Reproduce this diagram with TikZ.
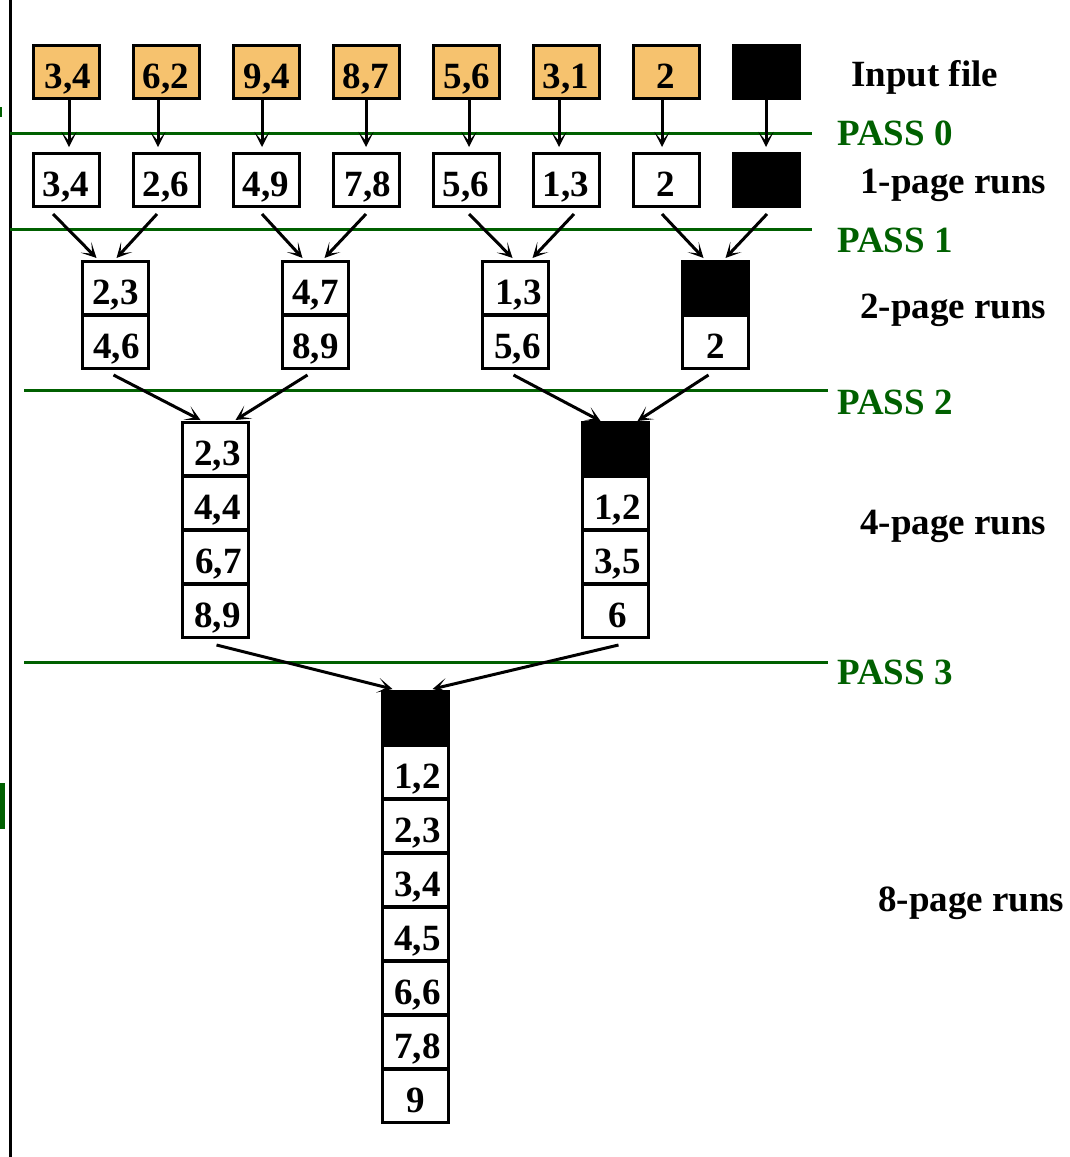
\documentclass[tikz,border=0pt]{standalone}
\usepackage{fontspec}
\setmainfont{Liberation Serif}
\usetikzlibrary{arrows.meta}
\definecolor{inorange}{RGB}{246,194,110}
\definecolor{passgreen}{RGB}{0,96,0}
\begin{document}
\begin{tikzpicture}[x=1pt,y=-1pt,
  cell/.style={draw,line width=3pt,minimum width=66pt,minimum height=53pt,inner sep=0pt,
    text height=32pt,text depth=0pt,font=\fontsize{37}{40}\selectfont\bfseries},
  incell/.style={cell,fill=inorange},
  blk/.style={cell,fill=black},
  arr/.style={line width=3pt,-{Stealth[length=15pt,width=15pt,inset=9pt]}},
  passline/.style={passgreen,line width=3pt},
  lbl/.style={anchor=base west,inner sep=0pt,font=\fontsize{37}{40}\selectfont\bfseries},
  passlbl/.style={lbl,text=passgreen}]
\useasboundingbox (0,0) rectangle (1069,1157);
% left edge
\draw[line width=3pt] (10,0) -- (10,1157);
\fill[passgreen] (0,107) rectangle (2,117);
\fill[passgreen] (0,783) rectangle (5,829);
% pass lines
\draw[passline] (10,133) -- (812,133);
\draw[passline] (10,229) -- (812,229);
\draw[passline] (24,390) -- (828,390);
\draw[passline] (24,662) -- (828,662);
% input file
\node[incell] (t1) at (66,72) {\hspace{4pt}3,4};
\node[incell] (t2) at (166,72) {6,2};
\node[incell] (t3) at (266,72) {\hspace{2pt}9,4};
\node[incell] (t4) at (366,72) {8,7};
\node[incell] (t5) at (466,72) {\hspace{2pt}5,6};
\node[incell] (t6) at (566,72) {3,1};
\node[incell] (t7) at (666,72) {2};
\node[blk] (t8) at (766,72) {};
% 1-page runs
\node[cell] (o1) at (66,180) {3,4};
\node[cell] (o2) at (166,180) {2,6};
\node[cell] (o3) at (266,180) {4,9};
\node[cell] (o4) at (366,180) {\hspace{4pt}7,8};
\node[cell] (o5) at (466,180) {5,6};
\node[cell] (o6) at (566,180) {1,3};
\node[cell] (o7) at (666,180) {2};
\node[blk] (o8) at (766,180) {};
% 2-page runs
\node[cell] (a1) at (115.5,288) {2,3};
\node[cell] (a2) at (115.5,342) {\hspace{2pt}4,6};
\node[cell] (b1) at (315.5,288) {4,7};
\node[cell] (b2) at (315.5,342) {8,9};
\node[cell] (c1) at (515.5,288) {\hspace{6pt}1,3};
\node[cell] (c2) at (515.5,342) {\hspace{4pt}5,6};
\node[blk] (d1) at (715.5,288) {};
\node[cell] (d2) at (715.5,342) {2};
% 4-page runs
\node[cell] (e1) at (215.5,449) {\hspace{4pt}2,3};
\node[cell] (e2) at (215.5,503) {\hspace{4pt}4,4};
\node[cell] (e3) at (215.5,557) {\hspace{6pt}6,7};
\node[cell] (e4) at (215.5,611) {\hspace{4pt}8,9};
\node[blk] (f1) at (615.5,449) {};
\node[cell] (f2) at (615.5,503) {\hspace{4pt}1,2};
\node[cell] (f3) at (615.5,557) {\hspace{4pt}3,5};
\node[cell] (f4) at (615.5,611) {\hspace{4pt}6};
% 8-page run
\node[blk] (g1) at (415.5,718) {};
\node[cell] (g2) at (415.5,772) {\hspace{4pt}1,2};
\node[cell] (g3) at (415.5,826) {\hspace{4pt}2,3};
\node[cell] (g4) at (415.5,880) {\hspace{4pt}3,4};
\node[cell] (g5) at (415.5,934) {\hspace{4pt}4,5};
\node[cell] (g6) at (415.5,988) {\hspace{4pt}6,6};
\node[cell] (g7) at (415.5,1042) {\hspace{4pt}7,8};
\node[cell] (g8) at (415.5,1096) {9};
% pass 0 arrows
\draw[arr] ([xshift=3pt]t1.south) -- ([xshift=3pt,yshift=5pt]o1.north);
\draw[arr] ([xshift=-8pt]t2.south) -- ([xshift=-8pt,yshift=5pt]o2.north);
\draw[arr] ([xshift=-4pt]t3.south) -- ([xshift=-4pt,yshift=5pt]o3.north);
\draw[arr] ([xshift=0pt]t4.south) -- ([xshift=0pt,yshift=5pt]o4.north);
\draw[arr] ([xshift=3pt]t5.south) -- ([xshift=3pt,yshift=5pt]o5.north);
\draw[arr] ([xshift=-7pt]t6.south) -- ([xshift=-7pt,yshift=5pt]o6.north);
\draw[arr] ([xshift=-4pt]t7.south) -- ([xshift=-4pt,yshift=5pt]o7.north);
\draw[arr] ([xshift=0pt]t8.south) -- ([xshift=0pt,yshift=5pt]o8.north);
% pass 1 arrows
\draw[arr] ([xshift=-13pt,yshift=-6pt]o1.south) -- ([xshift=-19pt,yshift=2pt]a1.north);
\draw[arr] ([xshift=-9pt,yshift=-6pt]o2.south) -- ([xshift=1pt,yshift=2pt]a1.north);
\draw[arr] ([xshift=-4pt,yshift=-6pt]o3.south) -- ([xshift=-13pt,yshift=2pt]b1.north);
\draw[arr] ([xshift=0pt,yshift=-6pt]o4.south) -- ([xshift=9pt,yshift=2pt]b1.north);
\draw[arr] ([xshift=3pt,yshift=-6pt]o5.south) -- ([xshift=-3pt,yshift=2pt]c1.north);
\draw[arr] ([xshift=8pt,yshift=-6pt]o6.south) -- ([xshift=17pt,yshift=2pt]c1.north);
\draw[arr] ([xshift=-4pt,yshift=-6pt]o7.south) -- ([xshift=-12pt,yshift=2pt]d1.north);
\draw[arr] ([xshift=1pt,yshift=-6pt]o8.south) -- ([xshift=10pt,yshift=2pt]d1.north);
% pass 2 arrows
\draw[arr] ([xshift=-2pt,yshift=-5pt]a2.south) -- ([xshift=-15pt,yshift=1pt]e1.north);
\draw[arr] ([xshift=-8pt,yshift=-5pt]b2.south) -- ([xshift=20pt,yshift=1pt]e1.north);
\draw[arr] ([xshift=-2pt,yshift=-5pt]c2.south) -- ([xshift=-15pt,yshift=0pt]f1.north);
\draw[arr] ([xshift=-7pt,yshift=-5pt]d2.south) -- ([xshift=22pt,yshift=0pt]f1.north);
% pass 3 arrows
\draw[arr] ([xshift=1pt,yshift=-6pt]e4.south) -- ([xshift=-23pt,yshift=1pt]g1.north);
\draw[arr] ([xshift=3pt,yshift=-6pt]f4.south) -- ([xshift=17pt,yshift=1pt]g1.north);
% labels
\node[lbl] (linput) at (851,86) {Input file};
\node[passlbl] (lp0) at (837,145) {PASS 0};
\node[lbl] (l1) at (860,193) {1-page runs};
\node[passlbl] (lp1) at (837,252) {PASS 1};
\node[lbl] (l2) at (860,318) {2-page runs};
\node[passlbl] (lp2) at (837,414) {PASS 2};
\node[lbl] (l4) at (860,534) {4-page runs};
\node[passlbl] (lp3) at (837,684) {PASS 3};
\node[lbl] (l8) at (878,911) {8-page runs};
\end{tikzpicture}
\end{document}
